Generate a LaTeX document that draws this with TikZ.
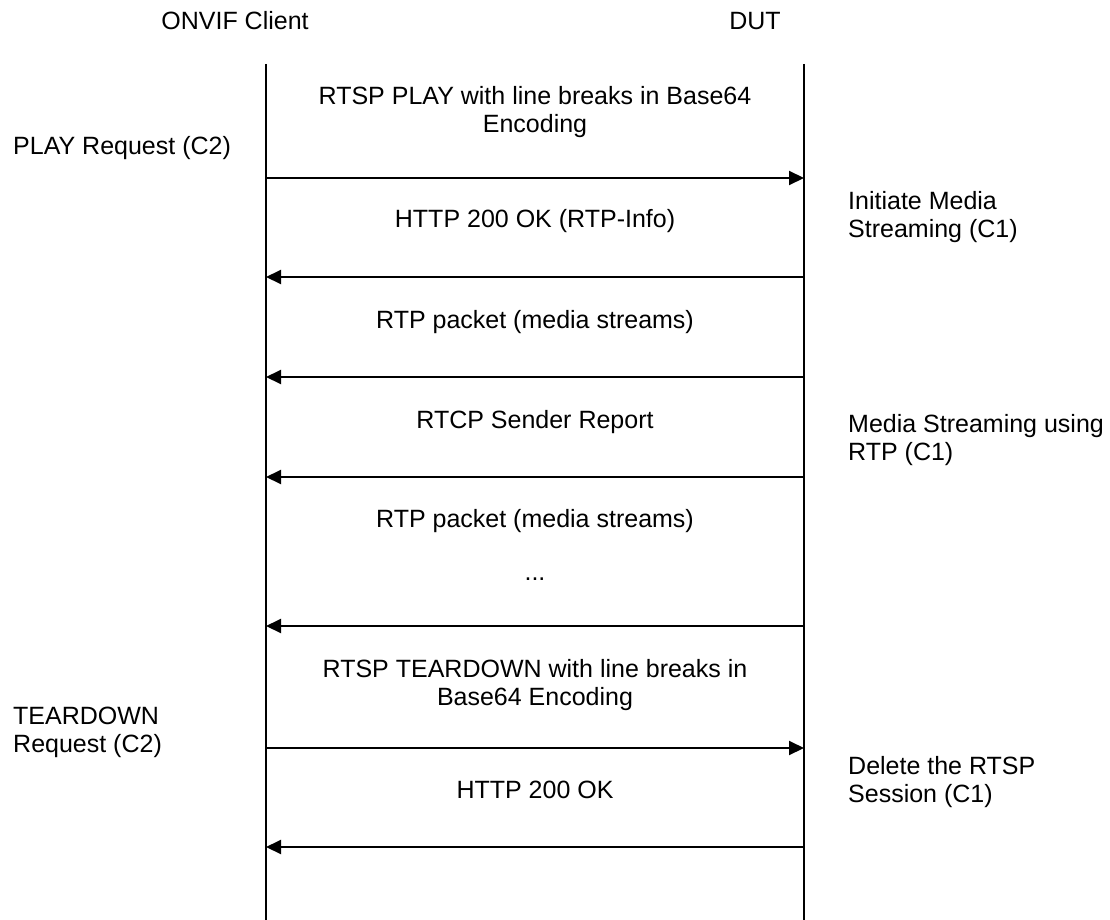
\documentclass[tikz,border=0pt]{standalone}
\usepackage{fontspec}
\setmainfont{Liberation Sans}
\usetikzlibrary{arrows.meta}

\begin{document}
\begin{tikzpicture}[x=1pt, y=-1pt,
    lifeline/.style={line width=1.3pt},
    msg/.style={line width=2pt, -{Triangle[length=15pt, width=14pt]}},
    txt/.style={font=\fontsize{25}{28}\selectfont, inner sep=0pt, anchor=base, align=center},
    note/.style={txt, anchor=base west, align=left}]
  \useasboundingbox (0,0) rectangle (1110,920);

  % Participants
  \node[txt] (client) at (235,30) {ONVIF Client};
  \node[txt] (dut) at (755,30) {DUT};

  % Lifelines
  \coordinate (cTop) at (266,64);
  \coordinate (cBot) at (266,920);
  \coordinate (dTop) at (804,64);
  \coordinate (dBot) at (804,920);
  \draw[lifeline] (cTop) -- (cBot);
  \draw[lifeline] (dTop) -- (dBot);

  % Message levels on both lifelines
  \foreach \i/\y in {1/178, 2/277, 3/377, 4/477, 5/626, 6/748, 7/847} {
    \coordinate (c\i) at (266,\y);
    \coordinate (d\i) at (804,\y);
  }

  % Messages (base of a two-line text is its last line)
  \node[txt] (m1) at (535,133) {RTSP PLAY with line breaks in Base64\\Encoding};
  \draw[msg] (c1) -- (d1);
  \node[txt] (m2) at (535,227) {HTTP 200 OK (RTP-Info)};
  \draw[msg] (d2) -- (c2);
  \node[txt] (m3) at (535,328) {RTP packet (media streams)};
  \draw[msg] (d3) -- (c3);
  \node[txt] (m4) at (535,428) {RTCP Sender Report};
  \draw[msg] (d4) -- (c4);
  \node[txt] (m5) at (535,527) {RTP packet (media streams)};
  \node[txt] (dots) at (535,580) {...};
  \draw[msg] (d5) -- (c5);
  \node[txt] (m6) at (535,705) {RTSP TEARDOWN with line breaks in\\Base64 Encoding};
  \draw[msg] (c6) -- (d6);
  \node[txt] (m7) at (535,798) {HTTP 200 OK};
  \draw[msg] (d7) -- (c7);

  % Client side notes
  \node[note] (play) at (13,155) {PLAY Request (C2)};
  \node[note] (teardown) at (13,752) {TEARDOWN\\Request (C2)};

  % DUT side notes
  \node[note] (init) at (848,237) {Initiate Media\\Streaming (C1)};
  \node[note] (stream) at (848,460) {Media Streaming using\\RTP (C1)};
  \node[note] (delete) at (848,802) {Delete the RTSP\\Session (C1)};
\end{tikzpicture}
\end{document}
